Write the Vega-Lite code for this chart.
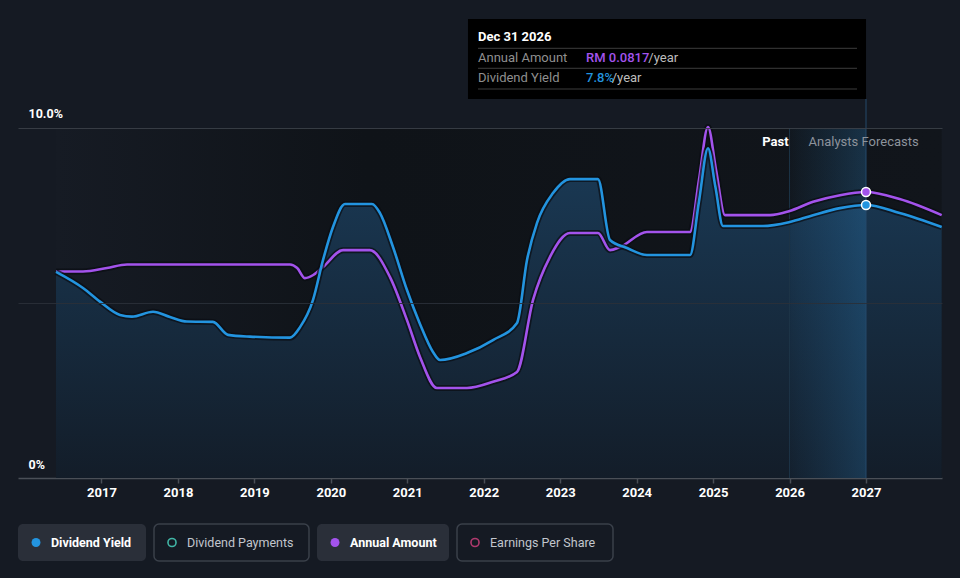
{
  "$schema": "https://vega.github.io/schema/vega-lite/v6.json",
  "background": "#151a23",
  "padding": {"left": 18, "top": 0, "right": 20, "bottom": 20},
  "config": {"view": {"stroke": null}, "font": "Roboto", "concat": {"spacing": 24}},
  "datasets": {
    "yield": [
      {"t": 2016.405, "v": 5.89}, {"t": 2016.758, "v": 5.43}, {"t": 2016.98, "v": 5.04},
      {"t": 2017.242, "v": 4.66}, {"t": 2017.399, "v": 4.61}, {"t": 2017.674, "v": 4.75},
      {"t": 2017.896, "v": 4.6}, {"t": 2018.118, "v": 4.47}, {"t": 2018.458, "v": 4.46},
      {"t": 2018.655, "v": 4.09}, {"t": 2018.942, "v": 4.04}, {"t": 2019.466, "v": 4.01},
      {"t": 2019.597, "v": 4.31}, {"t": 2019.767, "v": 5.09}, {"t": 2019.898, "v": 6.23},
      {"t": 2020.028, "v": 7.17}, {"t": 2020.185, "v": 7.83}, {"t": 2020.538, "v": 7.83},
      {"t": 2020.643, "v": 7.57}, {"t": 2020.813, "v": 6.6}, {"t": 2020.996, "v": 5.37},
      {"t": 2021.166, "v": 4.4}, {"t": 2021.336, "v": 3.6}, {"t": 2021.428, "v": 3.37},
      {"t": 2021.781, "v": 3.57}, {"t": 2022.121, "v": 3.94}, {"t": 2022.435, "v": 4.43},
      {"t": 2022.566, "v": 6.23}, {"t": 2022.697, "v": 7.29}, {"t": 2022.906, "v": 8.14},
      {"t": 2023.128, "v": 8.54}, {"t": 2023.494, "v": 8.54}, {"t": 2023.651, "v": 6.8},
      {"t": 2023.874, "v": 6.57}, {"t": 2024.135, "v": 6.37}, {"t": 2024.698, "v": 6.37},
      {"t": 2024.815, "v": 7.9}, {"t": 2024.933, "v": 9.42}, {"t": 2025.03, "v": 8.32},
      {"t": 2025.129, "v": 7.2}, {"t": 2025.652, "v": 7.2}, {"t": 2025.992, "v": 7.31},
      {"t": 2026.307, "v": 7.51}, {"t": 2026.66, "v": 7.71}, {"t": 2027.0, "v": 7.8},
      {"t": 2027.44, "v": 7.57}, {"t": 2027.99, "v": 7.17}
    ],
    "amount": [
      {"t": 2016.405, "v": 5.9}, {"t": 2016.758, "v": 5.9}, {"t": 2017.072, "v": 6.0},
      {"t": 2017.334, "v": 6.1}, {"t": 2019.466, "v": 6.1}, {"t": 2019.56, "v": 6.0},
      {"t": 2019.662, "v": 5.71}, {"t": 2019.77, "v": 5.8}, {"t": 2019.898, "v": 6.03},
      {"t": 2020.16, "v": 6.51}, {"t": 2020.51, "v": 6.51}, {"t": 2020.774, "v": 5.74},
      {"t": 2020.996, "v": 4.51}, {"t": 2021.166, "v": 3.46}, {"t": 2021.388, "v": 2.57},
      {"t": 2021.781, "v": 2.57}, {"t": 2022.121, "v": 2.75}, {"t": 2022.435, "v": 3.03},
      {"t": 2022.645, "v": 5.09}, {"t": 2022.867, "v": 6.32}, {"t": 2023.128, "v": 7.0},
      {"t": 2023.494, "v": 7.0}, {"t": 2023.651, "v": 6.51}, {"t": 2023.782, "v": 6.6},
      {"t": 2024.135, "v": 7.03}, {"t": 2024.698, "v": 7.03}, {"t": 2024.816, "v": 8.53},
      {"t": 2024.933, "v": 10.03}, {"t": 2025.04, "v": 8.78}, {"t": 2025.155, "v": 7.51},
      {"t": 2025.744, "v": 7.51}, {"t": 2025.992, "v": 7.62}, {"t": 2026.307, "v": 7.89},
      {"t": 2026.66, "v": 8.08}, {"t": 2027.0, "v": 8.17}, {"t": 2027.44, "v": 7.97},
      {"t": 2027.99, "v": 7.51}
    ],
    "legend": [
      {"label": "Dividend Yield", "active": true},
      {"label": "Dividend Payments", "active": false},
      {"label": "Annual Amount", "active": true},
      {"label": "Earnings Per Share", "active": false}
    ]
  },
  "vconcat": [
    {
      "width": 924,
      "height": 478,
      "layer": [
        {
          "data": {"values": [{}]},
          "mark": {"type": "rect", "color": {"gradient": "linear", "x1": 0, "y1": 0, "x2": 1, "y2": 0, "stops": [{"offset": 0, "color": "#161b24"}, {"offset": 0.35, "color": "#0f1318"}, {"offset": 1, "color": "#11151b"}]}},
          "encoding": {
            "x": {"datum": 2016.405, "type": "quantitative", "title": null, "scale": {"domain": [2015.908, 2027.994], "nice": false, "zero": false},
              "axis": {"values": [2017, 2018, 2019, 2020, 2021, 2022, 2023, 2024, 2025, 2026, 2027], "format": "d", "title": null, "grid": false,
                "domainColor": "#4a4f57", "domainWidth": 1.5, "tickColor": "#4a4f57", "tickSize": 5, "tickWidth": 1.5,
                "labelColor": "#ffffff", "labelFontWeight": "bold", "labelFontSize": 13, "labelPadding": 3, "labelFont": "Roboto"}},
            "x2": {"datum": 2027.99},
            "y": {"datum": 0, "type": "quantitative", "title": null, "scale": {"domain": [0, 13.657], "nice": false, "zero": false},
              "axis": {"values": [0, 5, 10], "title": null, "domain": false, "ticks": false, "tickSize": 0, "grid": true, "zindex": 1,
                "gridColor": {"condition": {"test": "datum.value === 10", "value": "#3b4048"}, "value": "#2a3038"},
                "gridOpacity": {"condition": {"test": "datum.value === 0", "value": 0}, "value": 0.9},
                "labelExpr": "datum.value === 10 ? '10.0%' : (datum.value === 0 ? '0%' : '')",
                "labelAlign": "left", "labelBaseline": "alphabetic", "labelPadding": -10, "labelOffset": -10,
                "labelColor": "#ffffff", "labelFontWeight": "bold", "labelFontSize": 12.5, "labelFont": "Roboto",
                "labelFlush": false, "labelOverlap": false, "labelBound": false}},
            "y2": {"datum": 10}
          }
        },
        {
          "data": {"name": "yield"},
          "mark": {"type": "area", "interpolate": "monotone", "color": {"gradient": "linear", "x1": 0, "y1": 0, "x2": 0, "y2": 1, "stops": [{"offset": 0, "color": "#1a3a56"}, {"offset": 1, "color": "#131d29"}]}},
          "encoding": {
            "x": {"field": "t", "type": "quantitative", "title": null},
            "y": {"field": "v", "type": "quantitative", "title": null},
            "y2": {"datum": 0}
          }
        },
        {
          "data": {"values": [{}]},
          "mark": {"type": "rect", "color": {"gradient": "linear", "x1": 0, "y1": 0, "x2": 1, "y2": 0, "stops": [{"offset": 0, "color": "rgba(40,120,180,0.03)"}, {"offset": 0.13, "color": "rgba(40,120,180,0.07)"}, {"offset": 1, "color": "rgba(45,135,200,0.26)"}]}},
          "encoding": {
            "x": {"datum": 2026.0, "type": "quantitative", "title": null},
            "x2": {"datum": 2027.0},
            "y": {"datum": 0, "type": "quantitative", "title": null},
            "y2": {"datum": 10}
          }
        },
        {
          "data": {"values": [{}]},
          "mark": {"type": "rule", "color": "#1d3447", "strokeWidth": 1},
          "encoding": {
            "x": {"datum": 2026.0, "type": "quantitative", "title": null},
            "y": {"datum": 0, "type": "quantitative", "title": null},
            "y2": {"datum": 10}
          }
        },
        {
          "data": {"values": [{}]},
          "mark": {"type": "rule", "color": "#24496a", "strokeWidth": 1},
          "encoding": {
            "x": {"datum": 2027.0, "type": "quantitative", "title": null},
            "y": {"datum": 0, "type": "quantitative", "title": null},
            "y2": {"datum": 10.829}
          }
        },
        {
          "data": {"name": "amount"},
          "mark": {"type": "line", "interpolate": "monotone", "color": "#0a0d12", "strokeWidth": 6, "opacity": 0.7},
          "encoding": {"x": {"field": "t", "type": "quantitative", "title": null}, "y": {"field": "v", "type": "quantitative", "title": null}}
        },
        {
          "data": {"name": "amount"},
          "mark": {"type": "line", "interpolate": "monotone", "color": "#a353ec", "strokeWidth": 2.6},
          "encoding": {"x": {"field": "t", "type": "quantitative", "title": null}, "y": {"field": "v", "type": "quantitative", "title": null}}
        },
        {
          "data": {"name": "yield"},
          "mark": {"type": "line", "interpolate": "monotone", "color": "#0a0d12", "strokeWidth": 6, "opacity": 0.7},
          "encoding": {"x": {"field": "t", "type": "quantitative", "title": null}, "y": {"field": "v", "type": "quantitative", "title": null}}
        },
        {
          "data": {"name": "yield"},
          "mark": {"type": "line", "interpolate": "monotone", "color": "#2394df", "strokeWidth": 2.6},
          "encoding": {"x": {"field": "t", "type": "quantitative", "title": null}, "y": {"field": "v", "type": "quantitative", "title": null}}
        },
        {
          "data": {"name": "amount"},
          "transform": [{"filter": "datum.t === 2027"}],
          "mark": {"type": "point", "filled": true, "fill": "#a353ec", "stroke": "#ffffff", "strokeWidth": 1.5, "size": 80, "opacity": 1},
          "encoding": {"x": {"field": "t", "type": "quantitative", "title": null}, "y": {"field": "v", "type": "quantitative", "title": null}}
        },
        {
          "data": {"name": "yield"},
          "transform": [{"filter": "datum.t === 2027"}],
          "mark": {"type": "point", "filled": true, "fill": "#2394df", "stroke": "#ffffff", "strokeWidth": 1.5, "size": 80, "opacity": 1},
          "encoding": {"x": {"field": "t", "type": "quantitative", "title": null}, "y": {"field": "v", "type": "quantitative", "title": null}}
        },
        {
          "data": {"values": [{}]},
          "mark": {"type": "text", "text": "Past", "align": "right", "baseline": "middle", "dx": -1, "fontSize": 13, "fontWeight": "bold", "color": "#ffffff"},
          "encoding": {"x": {"datum": 2026.0, "type": "quantitative", "title": null}, "y": {"datum": 9.6, "type": "quantitative", "title": null}}
        },
        {
          "data": {"values": [{}]},
          "mark": {"type": "text", "text": "Analysts Forecasts", "align": "left", "baseline": "middle", "dx": 19, "fontSize": 13, "fontWeight": "normal", "color": "#8d939c"},
          "encoding": {"x": {"datum": 2026.0, "type": "quantitative", "title": null}, "y": {"datum": 9.6, "type": "quantitative", "title": null}}
        },
        {
          "data": {"values": [{}]},
          "mark": {"type": "rect", "color": "#000000"},
          "encoding": {
            "x": {"datum": 2021.794, "type": "quantitative", "title": null}, "x2": {"datum": 2027.0},
            "y": {"datum": 13.114, "type": "quantitative", "title": null}, "y2": {"datum": 10.829}
          }
        },
        {
          "data": {"values": [{"r": 12.277}, {"r": 11.706}, {"r": 11.114}]},
          "mark": {"type": "rule", "color": "#3d3d3d", "strokeWidth": 1},
          "encoding": {
            "x": {"datum": 2021.925, "type": "quantitative", "title": null}, "x2": {"datum": 2026.882},
            "y": {"field": "r", "type": "quantitative", "title": null}
          }
        },
        {
          "data": {"values": [{}]},
          "mark": {"type": "text", "text": "Dec 31 2026", "align": "left", "baseline": "middle", "dx": 10, "fontSize": 13, "fontWeight": "bold", "color": "#ffffff"},
          "encoding": {"x": {"datum": 2021.794, "type": "quantitative", "title": null}, "y": {"datum": 12.609, "type": "quantitative", "title": null}}
        },
        {
          "data": {"values": [{}]},
          "mark": {"type": "text", "text": "Annual Amount", "align": "left", "baseline": "middle", "dx": 10, "fontSize": 13, "color": "#8f8f8f"},
          "encoding": {"x": {"datum": 2021.794, "type": "quantitative", "title": null}, "y": {"datum": 12.009, "type": "quantitative", "title": null}}
        },
        {
          "data": {"values": [{}]},
          "mark": {"type": "text", "text": "Dividend Yield", "align": "left", "baseline": "middle", "dx": 10, "fontSize": 13, "color": "#8f8f8f"},
          "encoding": {"x": {"datum": 2021.794, "type": "quantitative", "title": null}, "y": {"datum": 11.437, "type": "quantitative", "title": null}}
        },
        {
          "data": {"values": [{}]},
          "mark": {"type": "text", "text": "RM 0.0817", "align": "left", "baseline": "middle", "fontSize": 13, "fontWeight": 500, "color": "#a353ec"},
          "encoding": {"x": {"datum": 2023.338, "type": "quantitative", "title": null}, "y": {"datum": 12.009, "type": "quantitative", "title": null}}
        },
        {
          "data": {"values": [{}]},
          "mark": {"type": "text", "text": "/year", "align": "left", "baseline": "middle", "fontSize": 13, "color": "#bdbdbd"},
          "encoding": {"x": {"datum": 2024.153, "type": "quantitative", "title": null}, "y": {"datum": 12.009, "type": "quantitative", "title": null}}
        },
        {
          "data": {"values": [{}]},
          "mark": {"type": "text", "text": "7.8%", "align": "left", "baseline": "middle", "fontSize": 13, "fontWeight": 500, "color": "#2394df"},
          "encoding": {"x": {"datum": 2023.338, "type": "quantitative", "title": null}, "y": {"datum": 11.437, "type": "quantitative", "title": null}}
        },
        {
          "data": {"values": [{}]},
          "mark": {"type": "text", "text": "/year", "align": "left", "baseline": "middle", "fontSize": 13, "color": "#bdbdbd"},
          "encoding": {"x": {"datum": 2023.674, "type": "quantitative", "title": null}, "y": {"datum": 11.437, "type": "quantitative", "title": null}}
        }
      ]
    },
    {
      "spacing": 7,
      "hconcat": [
        {
          "width": 128, "height": 37,
          "data": {"name": "legend"},
          "transform": [{"filter": "datum.label === 'Dividend Yield'"}],
          "layer": [
            {"mark": {"type": "rect", "cornerRadius": 5, "fill": "#2a2f39"}},
            {"mark": {"type": "point", "filled": true, "size": 80, "color": "#2394df", "opacity": 1}, "encoding": {"x": {"value": 18}}},
            {"mark": {"type": "text", "align": "left", "baseline": "middle", "dx": 33, "fontSize": 12.5, "fontWeight": "bold", "color": "#ffffff"}, "encoding": {"x": {"value": 0}, "text": {"field": "label"}}}
          ]
        },
        {
          "width": 155, "height": 37,
          "data": {"name": "legend"},
          "transform": [{"filter": "datum.label === 'Dividend Payments'"}],
          "layer": [
            {"mark": {"type": "rect", "cornerRadius": 5, "fill": "#151a23", "stroke": "#3a404a", "strokeWidth": 1.5}},
            {"mark": {"type": "point", "filled": false, "size": 65, "strokeWidth": 1.6, "color": "#41b6a6", "opacity": 1}, "encoding": {"x": {"value": 18}}},
            {"mark": {"type": "text", "align": "left", "baseline": "middle", "dx": 33, "fontSize": 12.5, "color": "#c2c6cd"}, "encoding": {"x": {"value": 0}, "text": {"field": "label"}}}
          ]
        },
        {
          "width": 132, "height": 37,
          "data": {"name": "legend"},
          "transform": [{"filter": "datum.label === 'Annual Amount'"}],
          "layer": [
            {"mark": {"type": "rect", "cornerRadius": 5, "fill": "#2a2f39"}},
            {"mark": {"type": "point", "filled": true, "size": 80, "color": "#a353ec", "opacity": 1}, "encoding": {"x": {"value": 18}}},
            {"mark": {"type": "text", "align": "left", "baseline": "middle", "dx": 33, "fontSize": 12.5, "fontWeight": "bold", "color": "#ffffff"}, "encoding": {"x": {"value": 0}, "text": {"field": "label"}}}
          ]
        },
        {
          "width": 156, "height": 37,
          "data": {"name": "legend"},
          "transform": [{"filter": "datum.label === 'Earnings Per Share'"}],
          "layer": [
            {"mark": {"type": "rect", "cornerRadius": 5, "fill": "#151a23", "stroke": "#3a404a", "strokeWidth": 1.5}},
            {"mark": {"type": "point", "filled": false, "size": 65, "strokeWidth": 1.6, "color": "#b03a6e", "opacity": 1}, "encoding": {"x": {"value": 18}}},
            {"mark": {"type": "text", "align": "left", "baseline": "middle", "dx": 33, "fontSize": 12.5, "color": "#c2c6cd"}, "encoding": {"x": {"value": 0}, "text": {"field": "label"}}}
          ]
        }
      ]
    }
  ]
}
